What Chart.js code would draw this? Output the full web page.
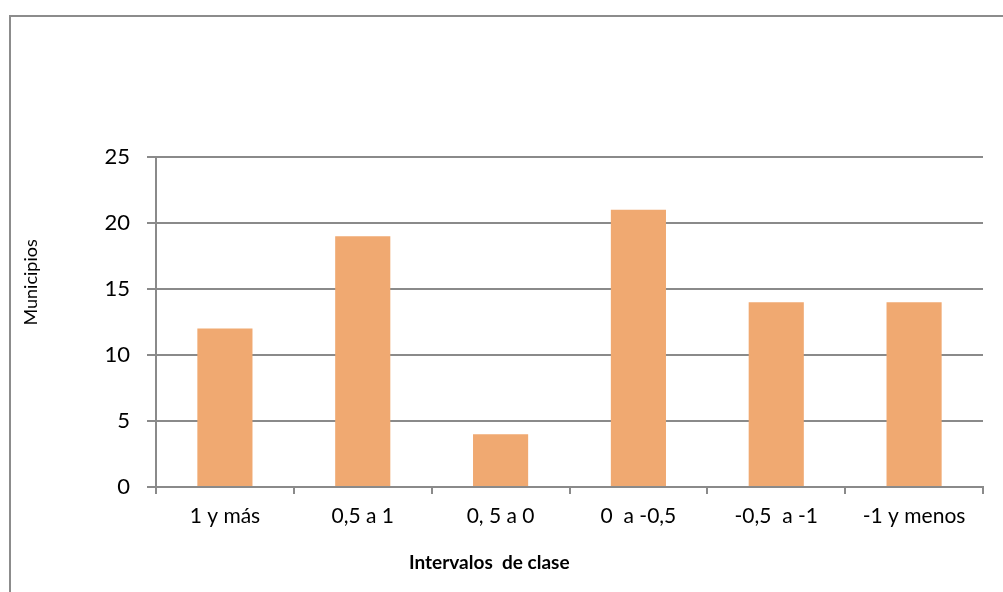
<!DOCTYPE html>
<html>
<head>
<meta charset="utf-8">
<script src="https://cdn.jsdelivr.net/npm/chart.js@4/dist/chart.umd.min.js"></script>
<style>
    html, body { margin: 0; padding: 0; background: #ffffff; }
    #wrap { position: relative; width: 1003px; height: 592px; }
</style>
</head>
<body>
<div id="wrap"><canvas id="barChart" width="1003" height="592"></canvas></div>
<script>
// Chart data
const categories = ['1 y más', '0,5 a 1', '0, 5 a 0', '0  a -0,5', '-0,5  a -1', '-1 y menos'];
const municipios = [12, 19, 4, 21, 14, 14];
const yTicks = [0, 5, 10, 15, 20, 25];
const xTitle = 'Intervalos  de clase';
const yTitle = 'Municipios';

const barColor = '#F0A971';
const lineColor = '#8a8a8a';
const fontFamily = 'Lato, "Open Sans", sans-serif';

// Outer frame like the spreadsheet chart border
const framePlugin = {
    id: 'frame',
    beforeDraw(chart) {
        const c = chart.ctx;
        c.save();
        c.fillStyle = '#ffffff';
        c.fillRect(0, 0, chart.width, chart.height);
        c.strokeStyle = '#8c8c8c';
        c.lineWidth = 2;
        c.strokeRect(10, 16, chart.width + 20, chart.height + 20);
        c.restore();
    }
};

// Axis titles, placed like the original (not centred on the plot area)
const axisTitles = {
    id: 'axisTitles',
    afterDraw(chart) {
        const c = chart.ctx;
        const area = chart.chartArea;
        c.save();
        c.fillStyle = '#000000';
        c.textAlign = 'center';
        c.textBaseline = 'middle';
        c.font = 'bold 19px ' + fontFamily;
        c.fillText(xTitle, area.left + (area.right - area.left) * 0.403, 563);
        c.translate(31, area.top + (area.bottom - area.top) * 0.38);
        c.rotate(-Math.PI / 2);
        c.font = '18px ' + fontFamily;
        c.fillText(yTitle, 0, 0);
        c.restore();
    }
};

const ctx = document.getElementById('barChart').getContext('2d');
new Chart(ctx, {
    type: 'bar',
    data: {
        labels: categories,
        datasets: [{
            label: 'Municipios',
            data: municipios,
            backgroundColor: barColor,
            borderWidth: 0,
            categoryPercentage: 1,
            barPercentage: 0.4
        }]
    },
    options: {
        responsive: false,
        animation: false,
        layout: { padding: { left: 15, right: 20, top: 157, bottom: 0 } },
        plugins: {
            legend: { display: false },
            tooltip: { enabled: false }
        },
        scales: {
            x: {
                offset: true,
                grid: {
                    offset: true,
                    drawOnChartArea: false,
                    drawTicks: true,
                    tickLength: 7,
                    color: lineColor,
                    lineWidth: 2
                },
                border: { color: lineColor, width: 2 },
                ticks: {
                    color: '#000000',
                    padding: 10,
                    font: { family: fontFamily, size: 21 }
                },
                afterFit(scale) { scale.height = 105; }
            },
            y: {
                min: 0,
                max: 25,
                afterBuildTicks(scale) {
                    scale.ticks = yTicks.map(v => ({ value: v }));
                },
                grid: {
                    color: lineColor,
                    lineWidth: 2,
                    drawTicks: true,
                    tickLength: 9
                },
                border: { color: lineColor, width: 2 },
                ticks: {
                    color: '#000000',
                    padding: 17,
                    font: { family: fontFamily, size: 22 }
                },
                afterFit(scale) { scale.width = 141; }
            }
        }
    },
    plugins: [framePlugin, axisTitles]
});
</script>
</body>
</html>
